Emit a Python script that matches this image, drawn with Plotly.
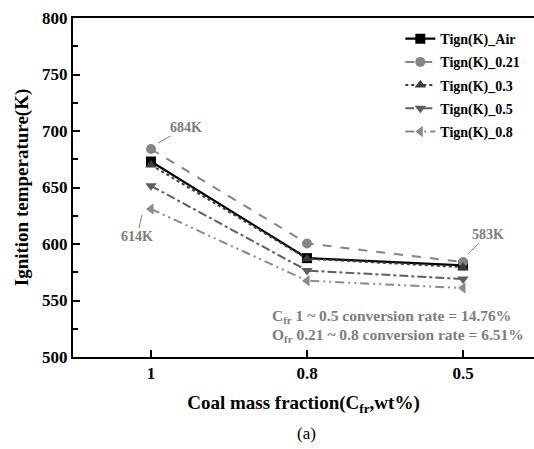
import plotly.graph_objects as go

categories = ["1", "0.8", "0.5"]
tign_air = [673, 587.5, 581]
tign_021 = [684, 600.5, 584]
tign_03 = [670, 587, 579.5]
tign_05 = [651.5, 576.5, 569]
tign_08 = [631, 567.5, 561]

series = [
    ("Tign(K)_Air", tign_air, "#000000", "solid", "square", 2.2),
    ("Tign(K)_0.21", tign_021, "#858585", "dash", "circle", 2),
    ("Tign(K)_0.3", tign_03, "#3c3c3c", "dot", "triangle-up", 2),
    ("Tign(K)_0.5", tign_05, "#5e5e5e", "dashdot", "triangle-down", 2),
    ("Tign(K)_0.8", tign_08, "#8a8a8a", "9px,4px,2px,4px,2px,4px", "triangle-left", 2),
]

xpos = list(range(len(categories)))
FONT = "Liberation Serif"
GRAY = "#7d7d7d"

fig = go.Figure()
for i, (name, vals, col, dash, sym, w) in enumerate(series):
    fig.add_trace(go.Scatter(
        x=xpos, y=vals, name=name, mode="lines+markers",
        line=dict(color=col, dash=dash, width=w),
        marker=dict(symbol=sym, size=10, color=col),
        legendgroup=str(i),
    ))

fig.update_layout(
    width=534, height=449,
    margin=dict(l=73, r=0, t=18, b=92),
    paper_bgcolor="white", plot_bgcolor="white",
    font=dict(family=FONT, color="black"),
    showlegend=True,
    legend=dict(
        x=0.71, y=0.985, xanchor="left", yanchor="top",
        font=dict(family=FONT, size=14, color="black", weight="bold"),
        bgcolor="rgba(0,0,0,0)", traceorder="grouped", tracegroupgap=2,
        itemwidth=30,
    ),
    xaxis=dict(
        range=[-0.5, 2.455], tickvals=xpos, ticktext=categories,
        ticks="inside", ticklen=7, tickwidth=2, tickcolor="black",
        showline=True, linewidth=2, linecolor="black", mirror=True,
        showgrid=False, zeroline=False,
        tickfont=dict(family=FONT, size=17, color="black", weight="bold"),
        title=dict(text="<b>Coal mass fraction(C<sub>fr</sub>,wt%)</b>",
                   font=dict(family=FONT, size=19, color="black"), standoff=13),
    ),
    yaxis=dict(
        range=[500, 800], dtick=50,
        ticks="inside", ticklen=7, tickwidth=2, tickcolor="black",
        minor=dict(dtick=25, ticks="inside", ticklen=5, tickwidth=2, tickcolor="black"),
        showline=True, linewidth=2, linecolor="black", mirror=False,
        showgrid=False, zeroline=False,
        tickfont=dict(family=FONT, size=17, color="black", weight="bold"),
        title=dict(text="<b>Ignition temperature(K)</b>",
                   font=dict(family=FONT, size=19, color="black"), standoff=8),
    ),
)

# value callouts
fig.add_annotation(x=0, y=tign_021[0], text="<b>684K</b>", showarrow=True,
                   arrowhead=0, arrowwidth=1, arrowcolor=GRAY,
                   ax=28, ay=-16, xshift=7, yshift=6,
                   font=dict(family=FONT, size=14, color=GRAY))
fig.add_annotation(x=0, y=tign_08[0], text="<b>614K</b>", showarrow=True,
                   arrowhead=0, arrowwidth=1, arrowcolor=GRAY,
                   ax=-5, ay=22, xshift=-9, yshift=-6,
                   font=dict(family=FONT, size=14, color=GRAY))
fig.add_annotation(x=2, y=tign_021[2], text="<b>583K</b>", showarrow=True,
                   arrowhead=0, arrowwidth=1, arrowcolor=GRAY,
                   ax=20, ay=-20, xshift=5, yshift=8,
                   font=dict(family=FONT, size=14, color=GRAY))

fig.add_annotation(xref="paper", yref="paper", x=(270 - 73) / 461, y=(357 - 316) / 339,
                   text="<b>C<sub>fr</sub> 1 ~ 0.5 conversion rate = 14.76%</b>",
                   showarrow=False, xanchor="left", yanchor="middle",
                   font=dict(family=FONT, size=15.5, color=GRAY))
fig.add_annotation(xref="paper", yref="paper", x=(270 - 73) / 461, y=(357 - 335) / 339,
                   text="<b>O<sub>fr</sub> 0.21 ~ 0.8 conversion rate = 6.51%</b>",
                   showarrow=False, xanchor="left", yanchor="middle",
                   font=dict(family=FONT, size=15.5, color=GRAY))
fig.add_annotation(xref="paper", yref="paper", x=(306 - 73) / 461, y=(357 - 433) / 339,
                   text="(a)", showarrow=False, xanchor="center", yanchor="middle",
                   font=dict(family=FONT, size=17, color="black"))

fig.write_html("out.html")
